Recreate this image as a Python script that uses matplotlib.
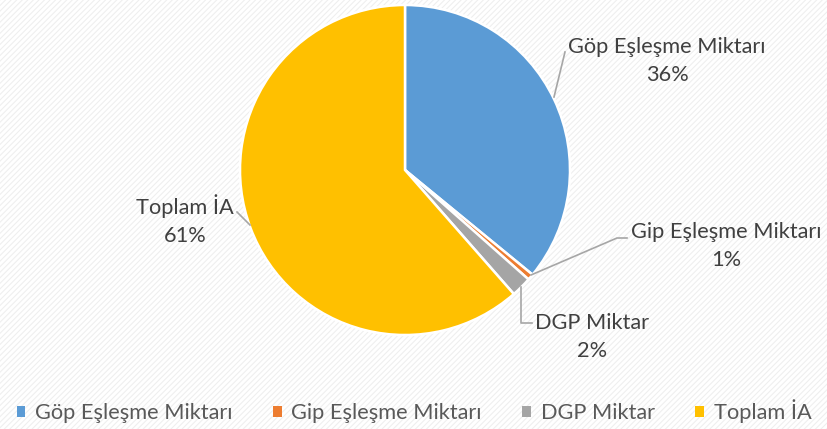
"""Pie chart: Göp / Gip eşleşme miktarı, DGP ve toplam İA payları."""

import matplotlib as mpl
import matplotlib.pyplot as plt
from matplotlib.patches import Rectangle

LABELS = ["Göp Eşleşme Miktarı", "Gip Eşleşme Miktarı", "DGP Miktar", "Toplam İA"]
VALUES = [35.9, 0.6, 2.0, 61.4]
COLORS = ["#5B9BD5", "#ED7D31", "#A5A5A5", "#FFC000"]

TEXT = "#404040"
LEGEND_TEXT = "#595959"
LEADER = "#A6A6A6"

W, H = 828, 429


def py(y):
    # pixel row (from top) -> data y
    return H - y


mpl.rcParams["font.family"] = ["Lato", "DejaVu Sans"]
mpl.rcParams["hatch.linewidth"] = 0.8

fig = plt.figure(figsize=(W / 100, H / 100), dpi=100)
ax = fig.add_axes([0, 0, 1, 1])

# faint diagonal hatching on the background
bg = Rectangle((0, 0), W, H, facecolor="white", edgecolor="#EFEFEF",
               hatch="//////", lw=0, zorder=0)
ax.add_patch(bg)

wedges, _ = ax.pie(
    VALUES,
    colors=COLORS,
    startangle=90,
    counterclock=False,
    center=(405, py(170)),
    radius=165,
    wedgeprops={"edgecolor": "white", "linewidth": 1.8},
    frame=True,
)
ax.set_xlim(0, W)
ax.set_ylim(0, H)
ax.set_aspect("equal")
ax.axis("off")
for w in wedges:
    w.set_zorder(2)

total = sum(VALUES)
pcts = [f"{round(v / total * 100):.0f}%" for v in VALUES]

# label positions (centre of text block, pixels) and leader lines
label_pos = [(667, 61), (726, 246), (592, 337), (185, 220)]
leaders = [
    [(554, 97), (565, 52)],
    [(531, 275), (617, 238), (627, 238)],
    [(521, 287), (521, 323), (532, 323)],
    [(237, 212), (250, 225)],
]

for (x, y), name, pct in zip(label_pos, LABELS, pcts):
    ax.text(x, py(y), f"{name}\n{pct}", ha="center", va="center",
            fontsize=15.7, color=TEXT, linespacing=1.5, zorder=4)

for pts in leaders:
    xs = [p[0] for p in pts]
    ys = [py(p[1]) for p in pts]
    ax.plot(xs, ys, color=LEADER, lw=1.2, zorder=3)

leg = fig.legend(
    wedges, LABELS,
    loc="center", bbox_to_anchor=(0.5, 1 - 411 / H),
    ncol=4, frameon=False, fontsize=15.7,
    handlelength=0.4, handleheight=0.4, handletextpad=0.45,
    columnspacing=1.85, labelcolor=LEGEND_TEXT,
)
for h in leg.legend_handles:
    h.set_edgecolor("none")

fig.savefig("out.png", dpi=100)
